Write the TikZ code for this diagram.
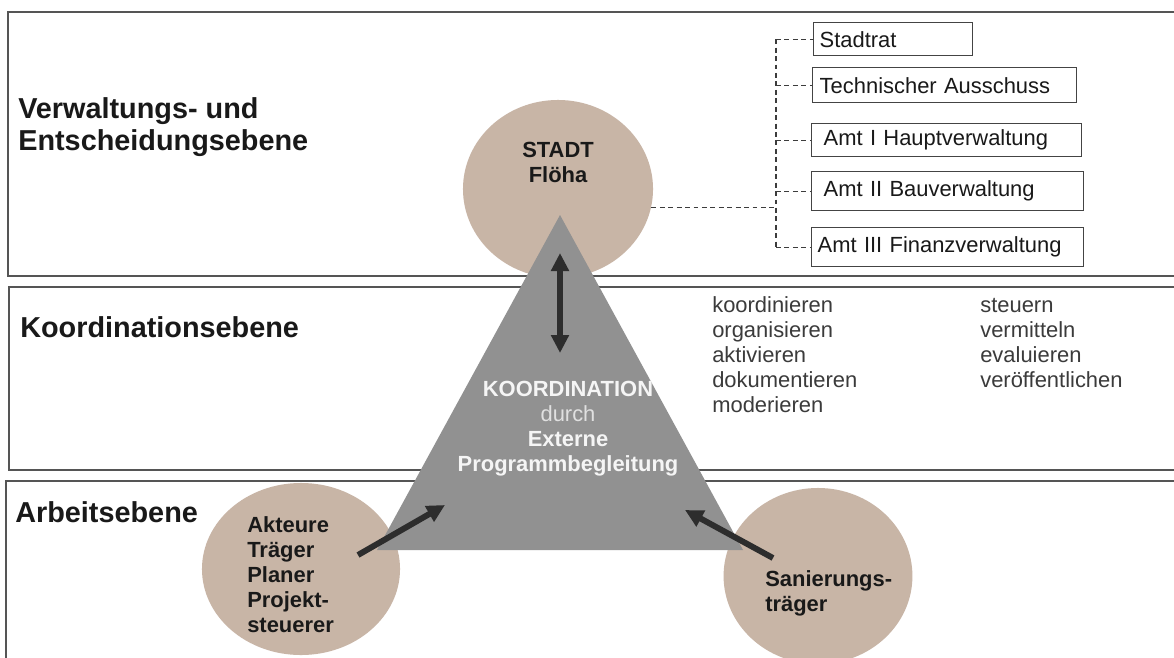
\documentclass[tikz,border=0pt]{standalone}
\usepackage{fontspec}
\setmainfont{Liberation Sans}
\usetikzlibrary{arrows.meta,shapes.geometric}
\definecolor{flaeche}{RGB}{200,181,166}
\definecolor{dreieck}{RGB}{145,145,145}
\definecolor{rahmen}{RGB}{85,85,85}
\definecolor{pfeil}{RGB}{45,45,45}
\definecolor{schrift}{RGB}{25,25,25}
\begin{document}
\begin{tikzpicture}[x=0.025cm,y=-0.025cm,
  ebene/.style={draw=rahmen,line width=1.1pt,fill=white},
  kreis/.style={ellipse,fill=flaeche,inner sep=0pt},
  ebenentext/.style={font=\fontsize{20.5}{22.7}\selectfont\bfseries,text=schrift,inner sep=0pt,align=left},
  kreistext/.style={font=\fontsize{15.6}{17.8}\selectfont\bfseries,text=schrift,inner sep=0pt},
  verben/.style={font=\fontsize{15.6}{17.8}\selectfont,text=schrift!85,inner sep=0pt,align=left,anchor=west},
  amtbox/.style={draw=rahmen!80!black,line width=1pt,anchor=north west,inner ysep=0pt,font=\fontsize{15.6}{17.8}\selectfont,text=schrift,align=left},
  strich/.style={draw=rahmen!70!black,line width=0.9pt,dash pattern=on 3.5pt off 2.5pt},
  spitze/.tip={Triangle[length=0.45cm,width=0.43cm]},
  pfeilstil/.style={draw=pfeil,line width=4.2pt}]
  \path[use as bounding box,clip] (0,0) rectangle (1174,657);
  % Ebenen
  \draw[ebene] (8,12) rectangle (1190,276);
  \draw[ebene] (9,287) rectangle (1190,470);
  \draw[ebene] (6,481) rectangle (1190,680);
  \node[ebenentext,anchor=west] (verwaltung) at (18,126.8) {Verwaltungs- und\\Entscheidungsebene};
  \node[ebenentext,anchor=base west] (koordebene) at (20,337) {Koordinationsebene};
  \node[ebenentext,anchor=base west] (arbeit) at (15,522) {Arbeitsebene};
  % Kreise
  \node[kreis,minimum width=4.75cm,minimum height=4.45cm] (stadt) at (558,189) {};
  \node[kreis,minimum width=4.95cm,minimum height=4.3cm] (akteure) at (301,569) {};
  \node[kreis,minimum width=4.72cm,minimum height=4.4cm] (sanierung) at (818,576) {};
  % Dreieck
  \fill[dreieck] (560,215) -- (377,550) -- (743,550) -- cycle;
  % Pfeile
  \coordinate (pfeiloben) at (560,253);
  \coordinate (pfeilunten) at (560,353);
  \coordinate (linksstart) at (358,555);
  \coordinate (linksziel) at (445,505);
  \coordinate (rechtsstart) at (773,558);
  \coordinate (rechtsziel) at (685,510);
  \draw[pfeilstil,spitze-spitze] (pfeiloben) -- (pfeilunten);
  \draw[pfeilstil,-spitze] (linksstart) -- (linksziel);
  \draw[pfeilstil,-spitze] (rechtsstart) -- (rechtsziel);
  % Texte
  \node[kreistext,align=center] (stadttext) at (558,162.6) {STADT\\Flöha};
  \node[kreistext,align=left,anchor=west] (akteuretext) at (247,574.5) {Akteure\\Träger\\Planer\\Projekt-\\steuerer};
  \node[kreistext,align=left,anchor=west] (sanierungtext) at (765,593.8) {Sanierungs-\\träger};
  \node[kreistext,align=center,text=white!96!black] (koord) at (568,428.9)
    {KOORDINATION\\{\mdseries\color{white!88!black}durch}\\Externe\\Programmbegleitung};
  \node[verben] (verbenlinks) at (712,355) {koordinieren\\organisieren\\aktivieren\\dokumentieren\\moderieren};
  \node[verben] (verbenrechts) at (980,343) {steuern\\vermitteln\\evaluieren\\veröffentlichen};
  % Gremien
  \node[amtbox,inner xsep=0.15cm,text width=3.675cm,minimum height=0.825cm] (rat) at (813,22) {Stadtrat};
  \node[amtbox,inner xsep=0.175cm,text width=6.25cm,minimum height=0.875cm] (tech) at (812,67) {Technischer Ausschuss};
  \node[amtbox,inner xsep=0.3cm,text width=6.15cm,minimum height=0.825cm] (amt1) at (811,123) {Amt I Hauptverwaltung};
  \node[amtbox,inner xsep=0.3cm,text width=6.2cm,minimum height=0.975cm] (amt2) at (811,171) {Amt II Bauverwaltung};
  \node[amtbox,inner xsep=0.15cm,text width=6.5cm,minimum height=0.975cm] (fin) at (811,227) {Amt III Finanzverwaltung};
  \coordinate (bus) at (776,0);
  \draw[strich] (stadt.-11) -- (stadt.-11 -| bus);
  \draw[strich] (bus |- rat.west) -- (bus |- fin.west);
  \foreach \b in {rat,tech,amt1,amt2,fin}
    \draw[strich] (bus |- \b.west) -- (\b.west);
\end{tikzpicture}
\end{document}
